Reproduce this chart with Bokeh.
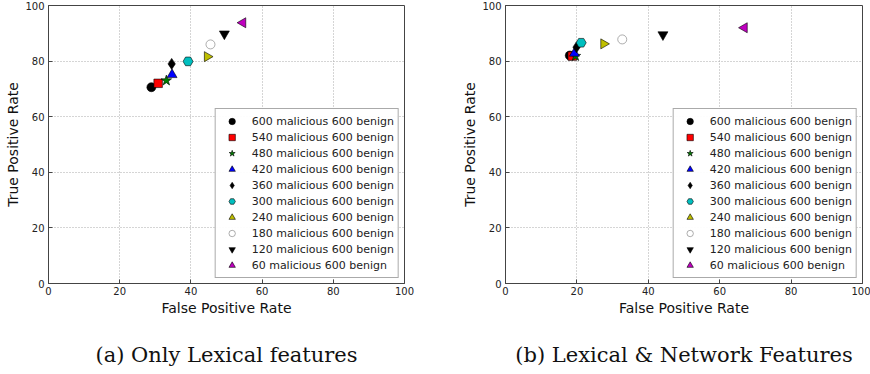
from bokeh.plotting import figure
from bokeh.layouts import row
from bokeh.models import Title, Range1d, FixedTicker, Legend
from bokeh.embed import file_html
from bokeh.resources import INLINE
import math

labels = ["600 malicious 600 benign", "540 malicious 600 benign", "480 malicious 600 benign",
          "420 malicious 600 benign", "360 malicious 600 benign", "300 malicious 600 benign",
          "240 malicious 600 benign", "180 malicious 600 benign", "120 malicious 600 benign",
          "60 malicious 600 benign"]
markers = ["circle", "square", "star", "triangle", "diamond", "hex", "triangle", "circle",
           "inverted_triangle", "triangle"]
angles = [0, 0, 0, 0, 0, 0, -math.pi / 2, 0, 0, math.pi / 2]
fill_colors = ["#000000", "#ff0000", "#008000", "#0000ff", "#000000", "#00bfbf", "#bfbf00",
               "#ffffff", "#000000", "#bf00bf"]
edge_colors = ["#000000", "#000000", "#000000", "#000000", "#000000", "#000000", "#000000",
               "#777777", "#000000", "#000000"]
sizes = [9, 8.5, 11, 10, 11, 10, 10, 9, 10, 10]

fpr_lex = [28.9, 30.8, 33.1, 34.7, 34.6, 39.2, 44.6, 45.5, 49.4, 54.6]
tpr_lex = [70.6, 72.0, 73.0, 75.1, 79.0, 79.9, 81.6, 86.0, 89.8, 93.8]
fpr_net = [18.0, 18.7, 19.6, 19.3, 19.9, 21.2, 27.5, 32.7, 44.1, 66.9]
tpr_net = [82.0, 81.8, 81.8, 82.8, 85.0, 86.6, 86.2, 87.8, 89.5, 92.0]

ticks = [0, 20, 40, 60, 80, 100]
SANS = "DejaVu Sans"


def make(fpr, tpr, caption, width, bl, br):
    p = figure(width=width, height=374, x_range=Range1d(0, 100), y_range=Range1d(0, 100),
               min_border_left=bl, min_border_right=br, min_border_top=5, min_border_bottom=91,
               output_backend="svg", toolbar_location=None,
               x_axis_label="False Positive Rate", y_axis_label="True Positive Rate")
    p.outline_line_color = "#444444"
    p.outline_line_width = 1
    p.background_fill_color = "white"
    p.border_fill_color = "white"
    for ax in (p.xaxis[0], p.yaxis[0]):
        ax.ticker = FixedTicker(ticks=ticks)
        ax.major_tick_in = 4
        ax.major_tick_out = 0
        ax.major_tick_line_color = "#444444"
        ax.minor_tick_line_color = None
        ax.axis_line_color = "#444444"
        ax.major_label_text_font = SANS
        ax.major_label_text_font_size = "10px"
        ax.major_label_text_color = "#222222"
        ax.major_label_standoff = 4
        ax.axis_label_text_font = SANS
        ax.axis_label_text_font_size = "14px"
        ax.axis_label_text_font_style = "normal"
        ax.axis_label_text_color = "#111111"
        ax.axis_label_standoff = 1
    p.xaxis[0].major_label_standoff = 3
    p.xaxis[0].axis_label_standoff = 2
    for g in (p.xgrid[0], p.ygrid[0]):
        g.ticker = FixedTicker(ticks=ticks)
        g.grid_line_color = "#aaaaaa"
        g.grid_line_dash = "1 2"
        g.grid_line_width = 1

    items = []
    for i in range(len(labels)):
        r = p.scatter([fpr[i]], [tpr[i]], marker=markers[i], size=sizes[i], angle=angles[i],
                      fill_color=fill_colors[i], line_color=edge_colors[i], line_width=0.6)
        items.append((labels[i], [r]))
    leg = Legend(items=items, location="bottom_right")
    leg.label_text_font = SANS
    leg.label_text_font_size = "11px"
    leg.label_text_color = "#222222"
    leg.border_line_color = "#555555"
    leg.border_line_width = 1
    leg.glyph_width = 24
    leg.glyph_height = 16
    leg.label_height = 16
    leg.spacing = 0
    leg.padding = 4
    leg.margin = 5
    leg.label_standoff = 8
    p.add_layout(leg)

    spacer = Title(text=" ", text_font_size="1px", standoff=17)
    p.add_layout(spacer, "below")
    t = Title(text=caption, align="center", text_font="DejaVu Serif", text_font_size="21px",
              text_font_style="normal", text_color="#111111", standoff=4)
    p.add_layout(t, "below")
    return p


p1 = make(fpr_lex, tpr_lex, "(a) Only Lexical features", 435, 48, 31)
p2 = make(fpr_net, tpr_net, "(b) Lexical & Network Features", 435, 70, 8)

layout = row(p1, p2)
open("out.html", "w").write(file_html(layout, INLINE))
